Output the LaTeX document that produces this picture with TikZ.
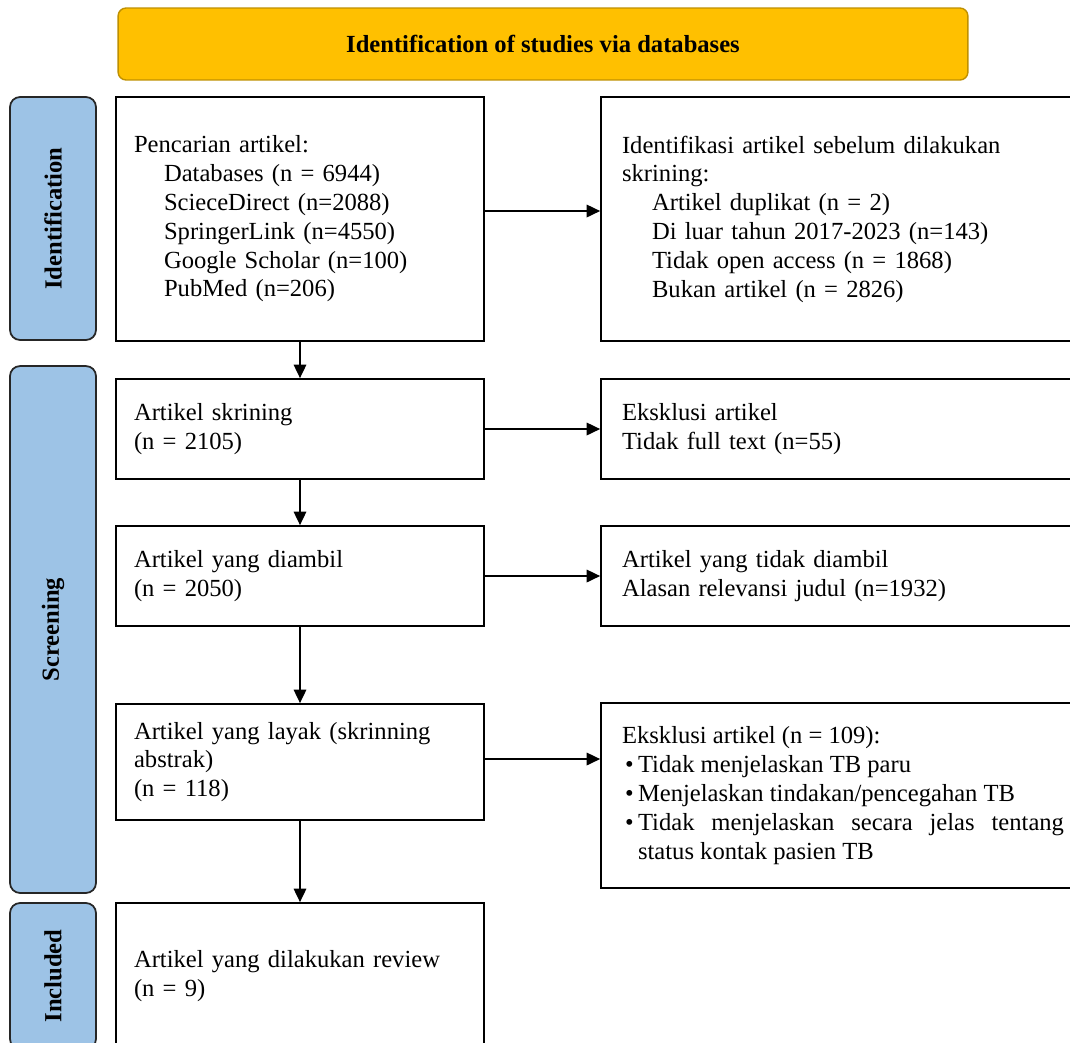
\documentclass[tikz,border=0pt]{standalone}
\usepackage{fontspec}
\setmainfont{Liberation Serif}
\usetikzlibrary{arrows.meta}
\setlength{\parindent}{0pt}
\definecolor{bannergold}{HTML}{FFC000}
\definecolor{phaseblue}{HTML}{9DC3E6}
\def\ind{\hspace*{0.6cm}}
\def\itm{\makebox[0.32cm][l]{\hspace{0.06cm}\textbullet}}

\begin{document}
\begin{tikzpicture}[x=0.02cm,y=-0.02cm,
			font=\fontsize{14}{16.4}\selectfont,
			banner/.style={draw=bannergold!75!black,fill=bannergold,rounded corners=0.16cm,line width=0.8pt,minimum width=17cm,minimum height=1.44cm,font=\fontsize{14}{16.4}\selectfont\bfseries},
			phase/.style={draw=black!85,fill=phaseblue,rounded corners=0.2cm,line width=1pt,rotate=90,minimum height=1.72cm,font=\fontsize{14}{16.4}\selectfont\bfseries},
			stage/.style={draw,line width=1pt,text width=6.64cm,inner xsep=0.36cm,align=left,minimum height=#1},
			excl/.style={draw,line width=1pt,text width=8.84cm,inner xsep=0.42cm,align=left,minimum height=#1},
			arrin/.style={{Triangle[length=0.27cm,width=0.25cm]}-,line width=1pt},
			arrout/.style={-{Triangle[length=0.27cm,width=0.25cm]},line width=1pt}]
			\useasboundingbox (0,0) rectangle (1070,1042);
			% header and phases
			\node [banner] (head) at (543,44) {Identification of studies via databases};
			\node [phase,minimum width=4.86cm] (phId) at (53,218.5) {Identification};
			\node [phase,minimum width=10.54cm] (phScr) at (53,629.5) {Screening};
			\node [phase,minimum width=2.92cm] (phInc) at (53,976) {Included};
			% main column
			\node [stage=4.88cm] (search) at (300,219) {Pencarian artikel:\\
				\ind Databases (n = 6944)\\
				\ind ScieceDirect (n=2088)\\
				\ind SpringerLink (n=4550)\\
				\ind Google Scholar (n=100)\\
				\ind PubMed (n=206)};
			\node [stage=2cm] (screen) at (300,429) {Artikel skrining\\(n = 2105)}
				edge [arrin] (search);
			\node [stage=2cm] (taken) at (300,576) {Artikel yang diambil\\(n = 2050)}
				edge [arrin] (screen);
			\node [stage=2.32cm] (eligible) at (300,762) {Artikel yang layak (skrinning\\abstrak)\\(n = 118)}
				edge [arrin] (taken);
			\node [stage=2.92cm] (review) at (300,976) {Artikel yang dilakukan review\\(n = 9)}
				edge [arrin] (eligible);
			% excluded column
			\node [excl=4.88cm] (idExcl) at (843,219) {Identifikasi artikel sebelum dilakukan\\
				skrining:\\
				\ind Artikel duplikat (n = 2)\\
				\ind Di luar tahun 2017-2023 (n=143)\\
				\ind Tidak open access (n = 1868)\\
				\ind Bukan artikel (n = 2826)};
			\draw [arrout] ([yshift=0.16cm]search.east) -- ([yshift=0.16cm]search.east -| idExcl.west);
			\node [excl=2cm] (ftExcl) at (843,429) {Eksklusi artikel\\Tidak full text (n=55)}
				edge [arrin] (screen);
			\node [excl=2cm] (notTaken) at (843,576) {Artikel yang tidak diambil\\Alasan relevansi judul (n=1932)}
				edge [arrin] (taken);
			\node [excl=3.7cm,align=justify] (absExcl) at (843,795.5) {Eksklusi artikel (n = 109):\\
				\itm Tidak menjelaskan TB paru\\
				\itm Menjelaskan tindakan/pencegahan TB\\
				\itm Tidak menjelaskan secara jelas tentang\linebreak
				\hspace*{0.32cm}status kontak pasien TB};
			\draw [arrout] ([yshift=0.06cm]eligible.east) -- ([yshift=0.06cm]eligible.east -| absExcl.west);
\end{tikzpicture}
\end{document}
